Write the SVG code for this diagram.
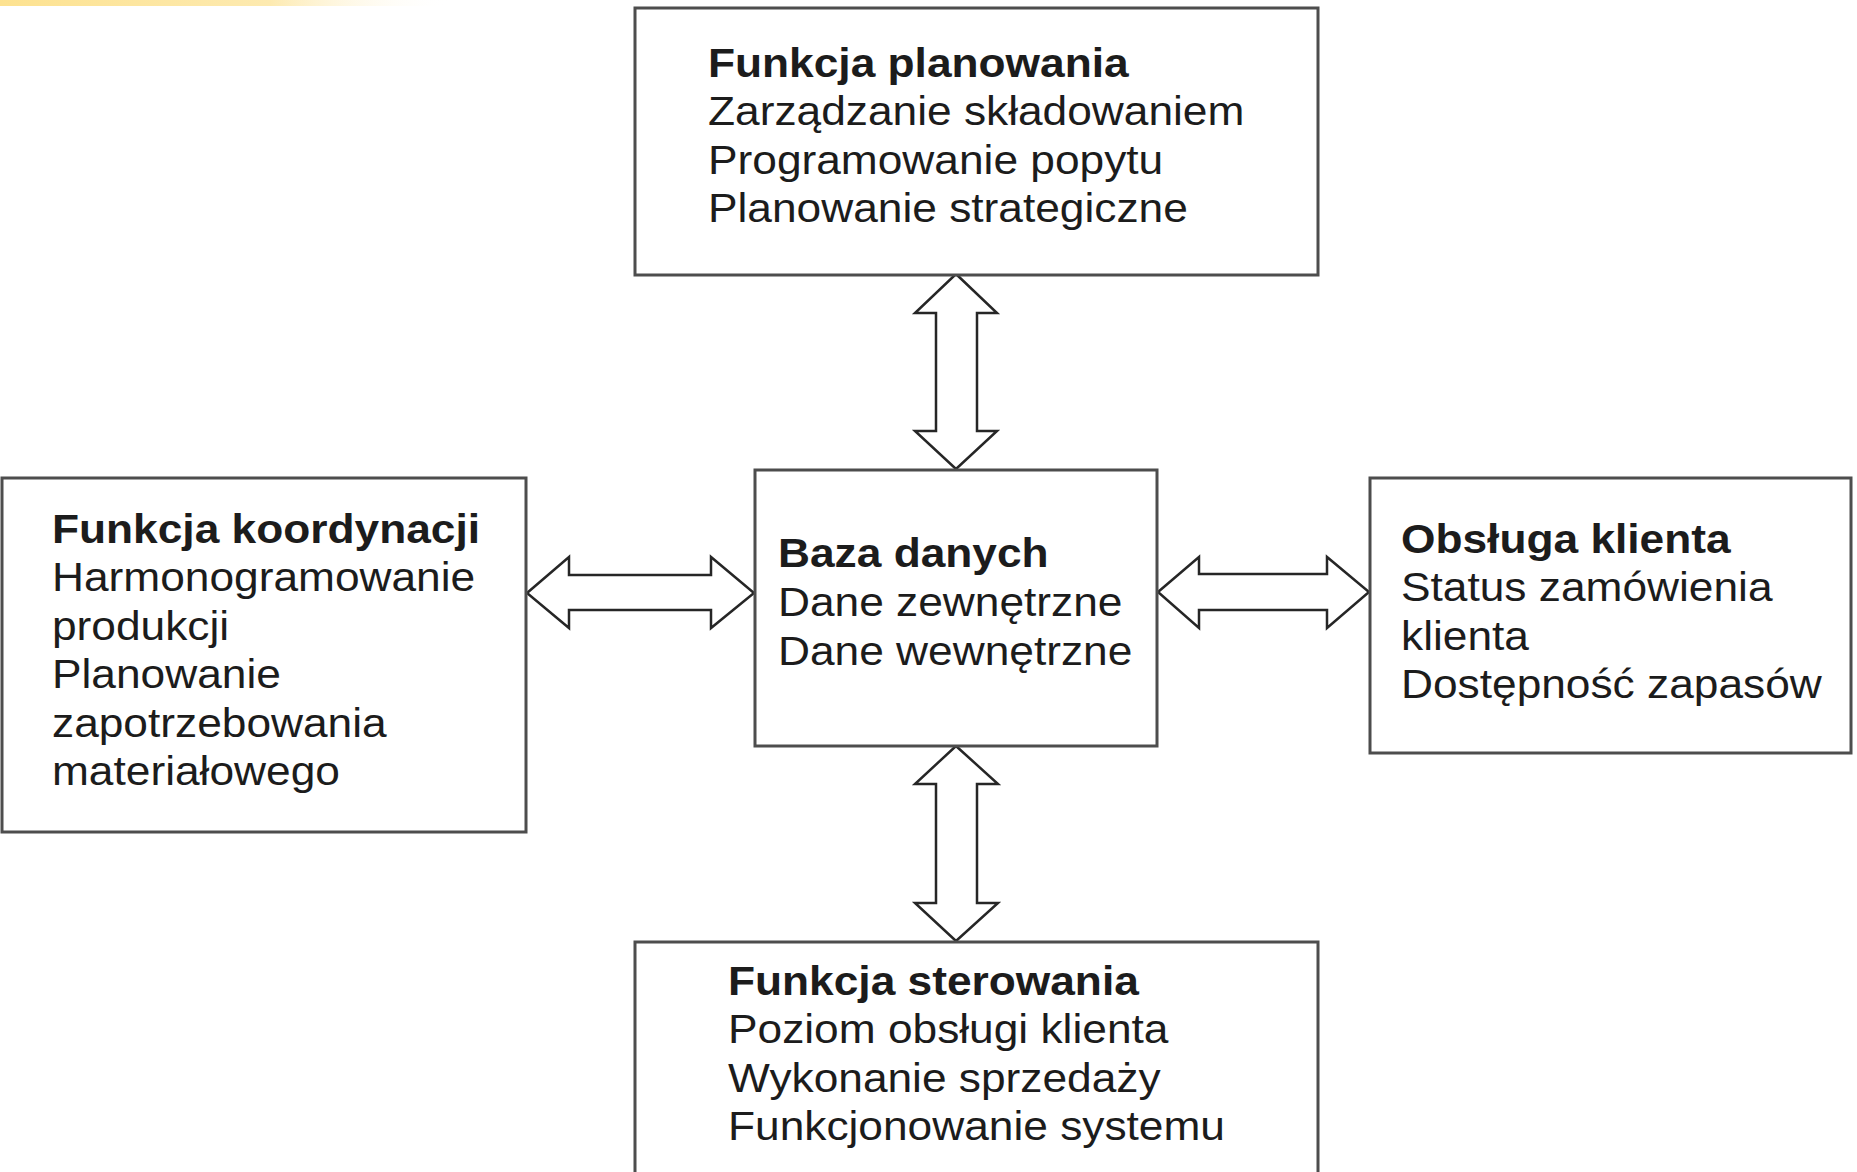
<svg xmlns="http://www.w3.org/2000/svg" width="1857" height="1172" viewBox="0 0 1857 1172">
  <defs>
    <linearGradient id="topBand" x1="0" y1="0" x2="1" y2="0">
      <stop offset="0" stop-color="#fde290"/>
      <stop offset="0.6" stop-color="#fdeab0"/>
      <stop offset="1" stop-color="#ffffff" stop-opacity="0"/>
    </linearGradient>
    <style>
      .box { fill: #ffffff; stroke: #4d4d4d; stroke-width: 3; }
      .arrow { fill: #ffffff; stroke: #262626; stroke-width: 2.5; stroke-linejoin: miter; }
      text { font-family: "Liberation Sans", Arial, sans-serif; font-size: 41px; fill: #1c1c1c; }
      .title { font-weight: bold; }
    </style>
  </defs>

  <rect width="1857" height="1172" fill="#ffffff"/>
  <rect x="0" y="0" width="450" height="6" fill="url(#topBand)"/>

  <!-- connectors: hollow double-headed arrows -->
  <g id="connectors">
    <polygon class="arrow" points="956,274 997,313 977,313 977,431 997,431 956,469 915,431 936,431 936,313 915,313"/>
    <polygon class="arrow" points="956,746 998,784 977,784 977,903 998,903 956,941 915,903 936,903 936,784 915,784"/>
    <polygon class="arrow" points="527,593 569,557 569,575 711,575 711,557 754,593 711,628 711,610 569,610 569,628"/>
    <polygon class="arrow" points="1158,592 1199,557 1199,574 1327,574 1327,557 1369,592 1327,628 1327,610 1199,610 1199,628"/>
  </g>

  <!-- planning -->
  <g id="planowanie">
    <rect class="box" x="635" y="8" width="683" height="267"/>
    <g transform="translate(708,0) scale(1.08,1)">
      <text class="title" x="0" y="77">Funkcja planowania</text>
      <text x="0" y="125.5">Zarządzanie składowaniem</text>
      <text x="0" y="174">Programowanie popytu</text>
      <text x="0" y="222.5">Planowanie strategiczne</text>
    </g>
  </g>

  <!-- coordination -->
  <g id="koordynacja">
    <rect class="box" x="2" y="478" width="524" height="354"/>
    <g transform="translate(52,0) scale(1.08,1)">
      <text class="title" x="0" y="543">Funkcja koordynacji</text>
      <text x="0" y="591.5">Harmonogramowanie</text>
      <text x="0" y="640">produkcji</text>
      <text x="0" y="688.5">Planowanie</text>
      <text x="0" y="737">zapotrzebowania</text>
      <text x="0" y="785.5">materiałowego</text>
    </g>
  </g>

  <!-- database -->
  <g id="baza">
    <rect class="box" x="755" y="470" width="402" height="276"/>
    <g transform="translate(778,0) scale(1.08,1)">
      <text class="title" x="0" y="567">Baza danych</text>
      <text x="0" y="616">Dane zewnętrzne</text>
      <text x="0" y="665">Dane wewnętrzne</text>
    </g>
  </g>

  <!-- customer service -->
  <g id="obsluga">
    <rect class="box" x="1370" y="478" width="481" height="275"/>
    <g transform="translate(1401,0) scale(1.08,1)">
      <text class="title" x="0" y="553">Obsługa klienta</text>
      <text x="0" y="601.5">Status zamówienia</text>
      <text x="0" y="650">klienta</text>
      <text x="0" y="698.5">Dostępność zapasów</text>
    </g>
  </g>

  <!-- control -->
  <g id="sterowanie">
    <rect class="box" x="635" y="942" width="683" height="260"/>
    <g transform="translate(728,0) scale(1.08,1)">
      <text class="title" x="0" y="995">Funkcja sterowania</text>
      <text x="0" y="1043.5">Poziom obsługi klienta</text>
      <text x="0" y="1092">Wykonanie sprzedaży</text>
      <text x="0" y="1140.5">Funkcjonowanie systemu</text>
    </g>
  </g>
</svg>
